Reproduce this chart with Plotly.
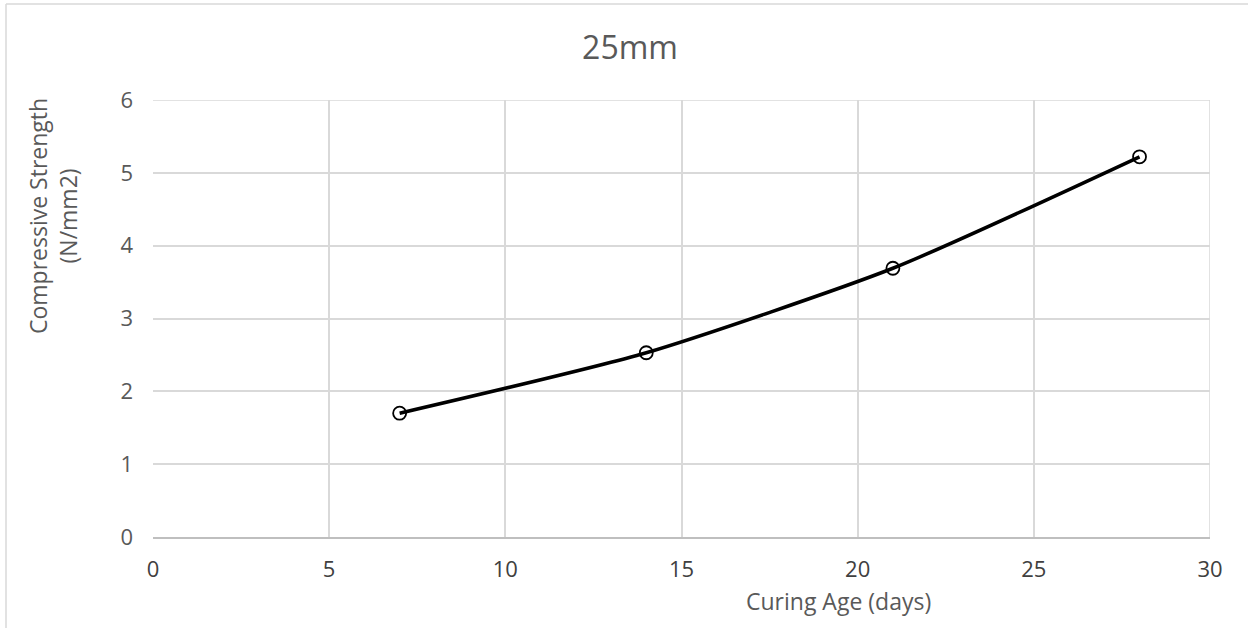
import plotly.graph_objects as go

curing_age = [7, 14, 21, 28]
strength = [1.70, 2.53, 3.69, 5.22]
x_ticks = [0, 5, 10, 15, 20, 25, 30]
y_ticks = [0, 1, 2, 3, 4, 5, 6]
title_text = "25mm"
x_title = "Curing Age (days)"
y_title = "Compressive Strength<br>(N/mm2)"

W, H = 1248, 628
L, R, T, B = 153, 38, 100, 91
pw, ph = W - L - R, H - T - B

def px_x(p):
    return (p - L) / pw

def px_y(p):
    return (H - B - p) / ph

fig = go.Figure()
fig.add_trace(go.Scatter(
    x=curing_age, y=strength, mode="lines+markers",
    line=dict(color="black", width=3.5, shape="spline", smoothing=0.6),
    marker=dict(symbol="circle-open", size=13, color="black", line=dict(width=1.8, color="black")),
    showlegend=False, hoverinfo="x+y",
))

font = "Open Sans, Liberation Sans, sans-serif"
fig.update_layout(
    width=W, height=H,
    margin=dict(l=L, r=R, t=T, b=B),
    paper_bgcolor="white", plot_bgcolor="white",
    font=dict(family=font, color="#595959"),
    title=dict(text=title_text, xref="paper", x=px_x(630), xanchor="center",
               yref="container", y=1 - 48 / H, yanchor="middle",
               font=dict(size=32, color="#595959", family=font)),
    xaxis=dict(range=[0, 30], tickvals=x_ticks, showgrid=True, gridcolor="#d9d9d9", gridwidth=1.5,
               showline=True, linecolor="#bfbfbf", linewidth=1.5, zeroline=False,
               tickfont=dict(size=22, color="#404040", family=font), ticks="", ticklabelstandoff=12,
               mirror=False, fixedrange=True),
    yaxis=dict(range=[0, 6], tickvals=y_ticks, showgrid=True, gridcolor="#d9d9d9", gridwidth=1.5,
               showline=False, zeroline=False,
               tickfont=dict(size=22, color="#595959", family=font), ticks="", ticklabelstandoff=19,
               fixedrange=True),
    annotations=[
        dict(text=y_title, xref="paper", yref="paper", x=px_x(53), y=px_y(216), xanchor="center",
             yanchor="middle", textangle=-90, showarrow=False,
             font=dict(size=23, color="#595959", family=font)),
        dict(text=x_title, xref="paper", yref="paper", x=px_x(838), y=px_y(601), xanchor="center",
             yanchor="middle", showarrow=False,
             font=dict(size=23, color="#595959", family=font)),
    ],
    shapes=[
        dict(type="line", xref="paper", yref="paper", x0=px_x(6), x1=px_x(6), y0=px_y(4), y1=px_y(640),
             line=dict(color="#d9d9d9", width=1.5)),
        dict(type="line", xref="paper", yref="paper", x0=px_x(6), x1=px_x(1260), y0=px_y(4), y1=px_y(4),
             line=dict(color="#d9d9d9", width=1.5)),
        dict(type="line", xref="x", yref="paper", x0=30, x1=30, y0=0, y1=1,
             line=dict(color="#d9d9d9", width=1.5), layer="below"),
        dict(type="line", xref="paper", yref="y", x0=0, x1=1, y0=6, y1=6,
             line=dict(color="#d9d9d9", width=1.5), layer="below"),
    ],
)

fig.write_html("out.html")
